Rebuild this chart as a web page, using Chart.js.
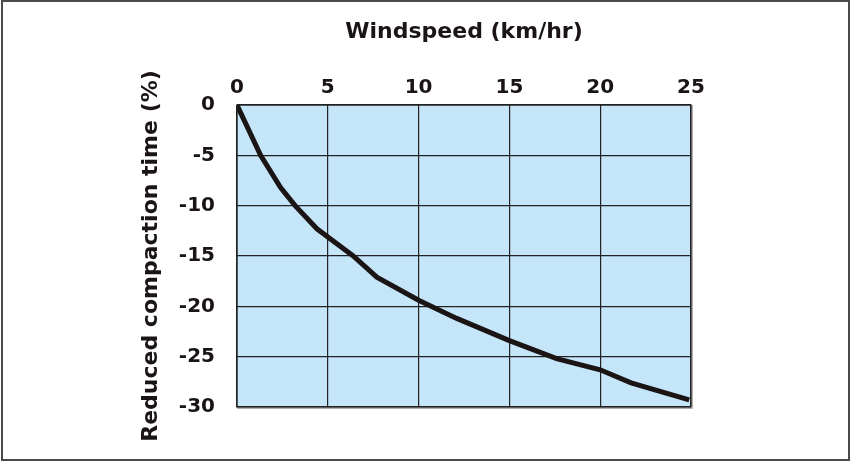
<!DOCTYPE html>
<html>
<head>
<meta charset="utf-8">
<script src="https://cdn.jsdelivr.net/npm/chart.js@4"></script>
<style>
  html, body { margin: 0; padding: 0; background: #fff; }
  #wrap { width: 851px; height: 462px; position: relative; }
</style>
</head>
<body>
<div id="wrap"><canvas id="myChart"></canvas></div>
<script>
"use strict";
// values
let windspeed = [0, 1.3, 2.4, 3.2, 4.4, 6.4, 7.7, 10, 12.1, 15, 17.6, 20, 21.7, 24.9];
let reduction = [0, -5, -8.2, -10, -12.3, -15, -17.1, -19.4, -21.2, -23.4, -25.2, -26.3, -27.6, -29.3];
let xTitle = "Windspeed (km/hr)";
let yTitle = "Reduced compaction time (%)";

//fills the plot area blue and draws the outer frame
const backdrop = {
  id: "backdrop",
  beforeDraw(chart) {
    let ctx = chart.ctx;
    let a = chart.chartArea;
    ctx.save();
    ctx.fillStyle = "#c5e5f8";
    ctx.fillRect(a.left, a.top, a.right - a.left, a.bottom - a.top);
    ctx.restore();
  },
  afterDraw(chart) {
    let ctx = chart.ctx;
    let a = chart.chartArea;
    ctx.save();
    // soft shadow on right and bottom of the plot
    ctx.strokeStyle = "#b0b0b0";
    ctx.lineWidth = 1;
    ctx.beginPath();
    ctx.moveTo(a.right + 1.5, a.top);
    ctx.lineTo(a.right + 1.5, a.bottom + 1.5);
    ctx.lineTo(a.left, a.bottom + 1.5);
    ctx.stroke();
    ctx.strokeStyle = "#222";
    ctx.lineWidth = 1.3;
    ctx.strokeRect(a.left, a.top, a.right - a.left, a.bottom - a.top);
    // frame round the whole picture
    ctx.strokeStyle = "#4a4a4a";
    ctx.lineWidth = 2;
    ctx.strokeRect(2, 1, 847, 459);
    ctx.restore();
  }
};

let points = windspeed.map((w, i) => ({ x: w, y: reduction[i] }));
let tickFont = { family: "DejaVu Sans", weight: "bold", size: 20 };
let titleFont = { family: "DejaVu Sans", weight: "bold", size: 22 };

new Chart(document.querySelector("#myChart"), {
  type: "line",
  data: {
    datasets: [{
      data: points,
      borderColor: "#1a1414",
      borderWidth: 5,
      pointRadius: 0,
      tension: 0,
      fill: false
    }]
  },
  options: {
    responsive: true,
    maintainAspectRatio: false,
    animation: false,
    layout: { padding: { left: 0, top: 0, right: 160, bottom: 55 } },
    plugins: { legend: { display: false }, tooltip: { enabled: false } },
    scales: {
      x: {
        type: "linear",
        position: "top",
        min: 0,
        max: 25,
        ticks: { stepSize: 5, padding: 5, color: "#1a1414", font: tickFont },
        grid: { color: "#222", lineWidth: 1.2, drawTicks: false },
        border: { display: false },
        title: {
          display: true,
          text: xTitle,
          color: "#1a1414",
          padding: { top: 19, bottom: 0 },
          font: titleFont
        },
        afterFit(scale) { scale.height = 105; }
      },
      y: {
        type: "linear",
        min: -30,
        max: 0,
        ticks: { stepSize: 5, padding: 22, color: "#1a1414", font: tickFont },
        grid: { color: "#222", lineWidth: 1.2, drawTicks: false },
        border: { display: false },
        title: {
          display: true,
          text: yTitle,
          color: "#1a1414",
          padding: { top: 138, bottom: 0 },
          font: titleFont
        },
        afterFit(scale) { scale.width = 237; }
      }
    }
  },
  plugins: [backdrop]
});
</script>
</body>
</html>
